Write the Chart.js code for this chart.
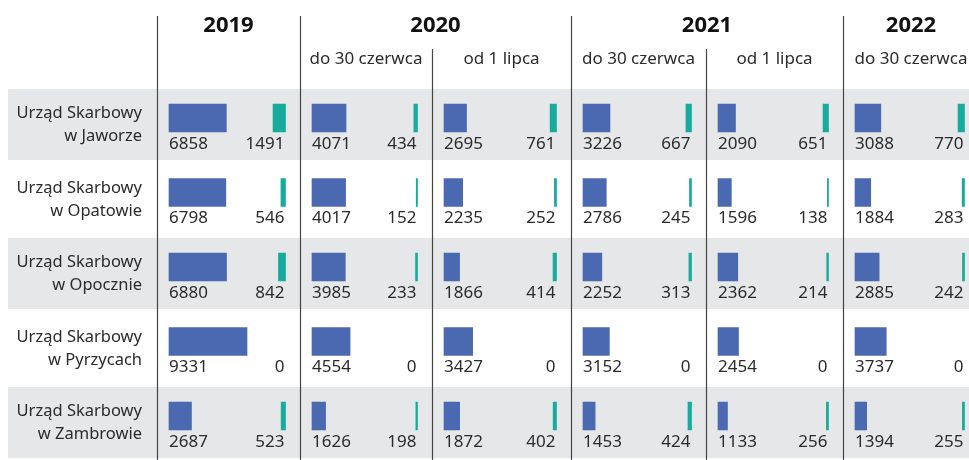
<!DOCTYPE html>
<html>
<head>
<meta charset="utf-8">
<script src="https://cdn.jsdelivr.net/npm/chart.js@4.4.1/dist/chart.umd.min.js"></script>
<style>
  html, body { margin: 0; padding: 0; background: #fff; overflow: hidden; }
</style>
</head>
<body>
<canvas id="tableChart" width="979" height="460"></canvas>
<script>
"use strict";

// Rows: tax offices
var officePrefix = "Urząd Skarbowy";
var offices = ["w Jaworze", "w Opatowie", "w Opocznie", "w Pyrzycach", "w Zambrowie"];

// Column headers
var years = ["2019", "2020", "2021", "2022"];
var periods = ["", "do 30 czerwca", "od 1 lipca", "do 30 czerwca", "od 1 lipca", "do 30 czerwca"];
var periodYear = [0, 1, 1, 2, 2, 3];

// Blue series, one array per column
var blue2019 = [6858, 6798, 6880, 9331, 2687];
var blue2020a = [4071, 4017, 3985, 4554, 1626];
var blue2020b = [2695, 2235, 1866, 3427, 1872];
var blue2021a = [3226, 2786, 2252, 3152, 1453];
var blue2021b = [2090, 1596, 2362, 2454, 1133];
var blue2022a = [3088, 1884, 2885, 3737, 1394];

// Teal series, one array per column
var teal2019 = [1491, 546, 842, 0, 523];
var teal2020a = [434, 152, 233, 0, 198];
var teal2020b = [761, 252, 414, 0, 402];
var teal2021a = [667, 245, 313, 0, 424];
var teal2021b = [651, 138, 214, 0, 256];
var teal2022a = [770, 283, 242, 0, 255];

var blueSeries = [blue2019, blue2020a, blue2020b, blue2021a, blue2021b, blue2022a];
var tealSeries = [teal2019, teal2020a, teal2020b, teal2021a, teal2021b, teal2022a];

// Colours and font
var blue = "#4a69b0";
var teal = "#17ab9c";
var bandColour = "#e6e7e8";
var lineColour = "#454545";
var textColour = "#2b2b2b";
var fontFamily = "'Noto Sans', sans-serif";

// Layout of the columns (pixels); the last one is cut off by the window
var colWidths = [143, 132, 139, 135, 137, 136];
var unitsPerPx = 1000 / 8.36;
var leftPad = 12;
var rightPad = 14.5;

function colMax(i) {
    return (colWidths[i] - leftPad) * unitsPerPx;
}

function tealAnchor(i) {
    return colMax(i) - rightPad * unitsPerPx;
}

// Build scales: one hidden x scale per column, stacked side by side
var scales = {
    y: {
        type: "category",
        position: "left",
        offset: true,
        grid: { display: false, drawTicks: false },
        border: { display: false },
        ticks: {
            padding: 15,
            labelOffset: 7,
            color: textColour,
            font: { family: fontFamily, size: 16.5, lineHeight: 1.38 }
        },
        afterFit: function(scale) {
            scale.width = 157;
            scale.paddingTop = 0;
            scale.paddingBottom = 0;
        }
    }
};

var datasets = [];
for (var i = 0; i < blueSeries.length; i++) {
    scales["x" + i] = {
        type: "linear",
        position: "bottom",
        stack: "cols",
        stackWeight: colWidths[i],
        display: false,
        stacked: false,
        min: -leftPad * unitsPerPx,
        max: colMax(i)
    };
    datasets.push({
        kind: "blue",
        col: i,
        data: blueSeries[i],
        xAxisID: "x" + i,
        yAxisID: "y",
        backgroundColor: blue,
        grouped: false,
        barThickness: 28
    });
    // Teal bars hang from the right edge of the column
    var anchor = tealAnchor(i);
    datasets.push({
        kind: "teal",
        col: i,
        data: tealSeries[i].map(function(v) { return v > 0 ? [anchor - v, anchor] : null; }),
        xAxisID: "x" + i,
        yAxisID: "y",
        backgroundColor: teal,
        grouped: false,
        barThickness: 28
    });
}

// Draws the grey row bands behind everything
var bandsPlugin = {
    id: "bands",
    beforeDraw: function(chart) {
        var ctx = chart.ctx;
        var yScale = chart.scales.y;
        ctx.save();
        ctx.fillStyle = bandColour;
        for (var r = 0; r < offices.length; r += 2) {
            var c = yScale.getPixelForValue(r);
            ctx.fillRect(8, c - 29, chart.width - 8, 71);
        }
        ctx.restore();
    }
};

// Writes the values under the bars
var valuesPlugin = {
    id: "values",
    afterDatasetsDraw: function(chart) {
        var ctx = chart.ctx;
        var yScale = chart.scales.y;
        ctx.save();
        ctx.fillStyle = textColour;
        ctx.font = "17px " + fontFamily;
        ctx.textBaseline = "alphabetic";
        chart.data.datasets.forEach(function(ds, d) {
            var xScale = chart.scales["x" + ds.col];
            for (var j = 0; j < offices.length; j++) {
                var y = yScale.getPixelForValue(j) + 30.5;
                if (ds.kind == "blue") {
                    ctx.textAlign = "left";
                    ctx.fillText(String(blueSeries[ds.col][j]), xScale.getPixelForValue(0), y);
                } else {
                    ctx.textAlign = "right";
                    ctx.fillText(String(tealSeries[ds.col][j]), xScale.getPixelForValue(tealAnchor(ds.col)) - 1, y);
                }
            }
        });
        ctx.restore();
    }
};

// Draws the column dividers and headers
var headerPlugin = {
    id: "header",
    afterDraw: function(chart) {
        var ctx = chart.ctx;
        ctx.save();
        ctx.strokeStyle = lineColour;
        ctx.lineWidth = 1.2;
        for (var i = 0; i < periods.length; i++) {
            var x = Math.round(chart.scales["x" + i].left) + 0.5;
            var top = (i > 0 && periodYear[i] == periodYear[i - 1]) ? 49 : 16;
            ctx.beginPath();
            ctx.moveTo(x, top);
            ctx.lineTo(x, chart.height);
            ctx.stroke();
        }

        ctx.fillStyle = "#111";
        ctx.textAlign = "center";
        ctx.textBaseline = "alphabetic";
        ctx.font = "bold 22px " + fontFamily;
        years.forEach(function(year, y) {
            var l = null, r = null;
            for (var i = 0; i < periods.length; i++) {
                if (periodYear[i] == y) {
                    var s = chart.scales["x" + i];
                    if (l === null) l = s.left;
                    r = s.right;
                }
            }
            ctx.fillText(year, (l + r) / 2, 32);
        });

        ctx.fillStyle = textColour;
        ctx.font = "17px " + fontFamily;
        periods.forEach(function(p, i) {
            var s = chart.scales["x" + i];
            ctx.fillText(p, (s.left + s.right) / 2, 64);
        });
        ctx.restore();
    }
};

function init() {
    var ctx = document.getElementById("tableChart");
    new Chart(ctx, {
        "type": "bar",
        "data": {
            "labels": offices.map(function(o) { return [officePrefix, o]; }),
            "datasets": datasets
        },
        "options": {
            "indexAxis": "y",
            "responsive": false,
            "animation": false,
            "devicePixelRatio": 1,
            "layout": { "padding": { "top": 80.75, "bottom": 6.75, "left": 0, "right": 0 } },
            "plugins": { "legend": { "display": false }, "tooltip": { "enabled": false } },
            "scales": scales
        },
        "plugins": [bandsPlugin, valuesPlugin, headerPlugin]
    });
}

window.onload = init;
</script>
</body>
</html>
